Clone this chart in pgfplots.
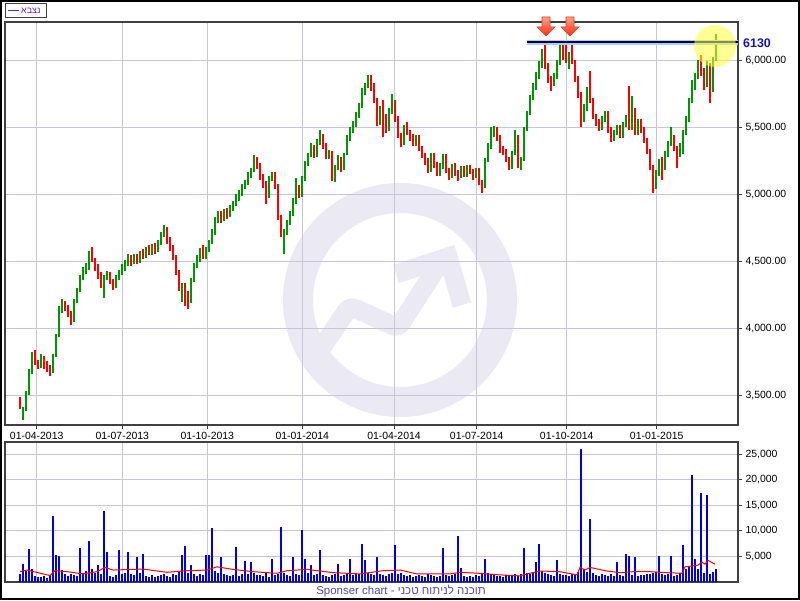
\documentclass[border=0pt]{standalone}
\usepackage{fontspec}
\setmainfont{Liberation Sans}
\TeXXeTstate=1
\usepackage{pgfplots}
\usepackage{pgfplotstable}
\pgfplotsset{compat=1.18}

\definecolor{upc}{RGB}{0,150,0}
\definecolor{downc}{RGB}{255,0,0}
\definecolor{volc}{RGB}{0,0,225}
\definecolor{gridc}{RGB}{200,197,216}
\definecolor{framec}{RGB}{64,64,64}
\definecolor{wmc}{RGB}{234,233,244}
\definecolor{legc}{RGB}{110,30,200}
\definecolor{labc}{RGB}{20,20,190}
\definecolor{footc}{RGB}{85,75,170}
\definecolor{glowc}{RGB}{175,205,240}
\definecolor{navyc}{RGB}{0,0,70}
\definecolor{hlc}{RGB}{255,255,60}

% one candle every 3 px: open close high low volume
\pgfplotstableread{
o c h l v
3460 3420 3490 3400 1500
3360 3400 3420 3320 3500
3400 3520 3540 3390 2200
3520 3680 3700 3510 6400
3680 3790 3830 3660 2500
3800 3750 3840 3730 1200
3750 3720 3770 3700 1000
3720 3790 3810 3710 900
3790 3720 3800 3700 1100
3720 3700 3760 3680 800
3700 3680 3730 3650 1300
3680 3800 3810 3670 13000
3800 3950 3960 3790 5200
3950 4150 4170 3940 5100
4150 4190 4220 4120 2400
4190 4160 4210 4130 1500
4160 4120 4180 4090 1200
4120 4060 4130 4030 1600
4060 4200 4220 4050 1300
4200 4280 4300 4190 1100
4280 4380 4400 4270 6600
4380 4430 4460 4360 1800
4430 4460 4490 4410 2200
4460 4570 4580 4440 8000
4590 4520 4610 4500 2600
4520 4460 4530 4430 1700
4460 4400 4480 4370 3300
4400 4330 4420 4300 1500
4250 4380 4400 4230 13900
4380 4400 4430 4360 5800
4400 4350 4420 4330 1200
4350 4320 4370 4290 1000
4320 4380 4400 4300 1400
4380 4420 4440 4360 6200
4420 4450 4480 4400 1600
4450 4490 4510 4430 1800
4490 4530 4560 4470 5800
4530 4490 4550 4470 1500
4490 4540 4560 4480 1300
4540 4500 4560 4480 4800
4500 4560 4580 4490 1700
4560 4540 4590 4520 5500
4540 4590 4610 4530 1200
4590 4560 4620 4550 1000
4560 4610 4630 4550 1300
4610 4580 4640 4560 900
4580 4640 4660 4570 1100
4640 4690 4720 4620 1400
4690 4740 4770 4680 1600
4750 4650 4760 4630 1200
4650 4600 4680 4580 1000
4600 4530 4620 4510 1500
4530 4420 4550 4400 1300
4420 4300 4440 4280 2000
4230 4320 4340 4200 5200
4320 4250 4340 4170 7000
4250 4200 4280 4150 1800
4200 4360 4380 4190 3400
4360 4470 4490 4350 1500
4470 4520 4550 4450 1200
4520 4570 4600 4500 1600
4600 4540 4620 4520 1400
4540 4590 4610 4520 5200
4590 4640 4660 4570 5200
4640 4720 4740 4630 10500
4720 4810 4830 4700 2200
4810 4850 4880 4790 1800
4860 4810 4880 4790 4800
4810 4870 4890 4800 1500
4870 4840 4900 4820 1300
4840 4900 4920 4830 1100
4900 4930 4950 4880 1400
4930 4970 5000 4910 6800
4970 5010 5030 4950 1200
5010 5060 5080 4990 1600
5060 5090 5110 5040 4100
5090 5140 5170 5070 1500
5140 5180 5200 5120 4000
5180 5260 5290 5170 1800
5260 5210 5280 5190 1300
5210 5130 5230 5110 1400
5130 5080 5150 5050 1200
5080 4980 5100 4930 1700
4980 5120 5140 4970 1000
5120 5150 5170 5100 4500
5150 5060 5170 5040 1300
5060 4830 5080 4810 1500
4830 4700 4850 4680 10700
4620 4720 4740 4560 1800
4720 4790 4810 4700 1400
4790 4860 4880 4770 1200
4860 4950 4970 4840 4800
4950 5040 5120 4930 1600
5050 4990 5070 4970 1400
4990 5120 5140 4980 10100
5120 5230 5250 5100 4500
5230 5290 5310 5210 1700
5300 5350 5380 5280 3300
5350 5290 5370 5270 1300
5290 5390 5410 5280 1500
5390 5430 5480 5370 6200
5430 5360 5450 5340 1400
5360 5280 5380 5260 1200
5280 5310 5330 5260 1000
5310 5130 5320 5100 1300
5100 5200 5220 5090 1500
5200 5260 5290 5180 3500
5270 5190 5280 5170 1100
5190 5300 5310 5180 1300
5300 5420 5440 5290 1600
5420 5480 5500 5400 4500
5480 5520 5550 5460 1400
5520 5590 5610 5500 1700
5590 5650 5680 5570 1500
5650 5760 5790 5640 7400
5760 5810 5830 5740 4300
5810 5860 5890 5790 1800
5870 5800 5890 5770 1500
5800 5700 5830 5680 1300
5700 5540 5720 5510 4800
5540 5640 5660 5520 1600
5640 5580 5700 5430 1400
5580 5480 5600 5460 1200
5480 5620 5640 5470 1500
5620 5660 5750 5600 1800
5680 5560 5700 5540 7200
5560 5440 5580 5420 1600
5440 5380 5460 5350 1800
5380 5500 5520 5370 1400
5510 5460 5540 5440 1200
5460 5430 5480 5400 1300
5430 5380 5450 5360 1000
5380 5420 5440 5360 1100
5420 5340 5440 5320 1400
5340 5290 5360 5270 1200
5290 5250 5310 5220 1000
5250 5180 5270 5160 1500
5180 5290 5310 5170 1300
5290 5220 5310 5200 1100
5220 5160 5240 5140 900
5160 5210 5230 5140 1200
5210 5280 5300 5190 6600
5280 5180 5300 5160 1400
5180 5140 5200 5110 1100
5140 5210 5230 5120 1300
5210 5160 5230 5140 1500
5160 5130 5180 5100 9000
5130 5190 5210 5120 2800
5190 5150 5210 5130 1200
5150 5200 5220 5130 1000
5200 5170 5220 5150 1100
5170 5140 5190 5110 900
5140 5180 5200 5120 1300
5180 5090 5200 5070 1200
5090 5060 5110 5010 1500
5060 5250 5270 5050 4500
5250 5360 5380 5240 1800
5360 5450 5500 5340 1600
5450 5480 5510 5430 1400
5490 5420 5500 5400 1200
5420 5330 5440 5310 1100
5330 5320 5360 5290 1000
5320 5260 5340 5240 1300
5260 5200 5280 5180 1200
5200 5300 5320 5190 1400
5300 5420 5480 5290 1500
5420 5220 5440 5200 1200
5220 5260 5280 5180 1600
5260 5480 5500 5250 6600
5480 5600 5620 5470 1800
5600 5720 5740 5590 1500
5720 5800 5830 5700 1700
5800 5880 5910 5780 3900
5880 5960 5990 5860 7400
5960 6050 6080 5940 2200
6050 5950 6140 5930 1800
5950 5850 5980 5830 1600
5850 5830 5880 5770 1300
5830 5880 5900 5810 1200
5880 5980 6000 5860 4300
5980 6060 6120 5960 1500
6060 6040 6130 6000 1400
6040 6000 6140 5980 1300
5950 6040 6060 5930 1100
6120 5990 6130 5970 1600
5990 5860 6000 5840 1400
5860 5740 5880 5720 2000
5740 5560 5760 5500 26000
5560 5640 5670 5540 2600
5640 5780 5800 5620 2000
5880 5700 5920 5680 12300
5700 5580 5720 5560 1800
5580 5540 5600 5510 1400
5540 5500 5560 5470 1200
5500 5560 5580 5480 1600
5560 5600 5620 5540 1300
5600 5480 5620 5460 1200
5480 5420 5500 5390 1500
5420 5460 5480 5400 1100
5460 5500 5520 5440 4000
5500 5440 5520 5420 1300
5440 5520 5540 5420 1200
5520 5560 5590 5500 5500
5800 5500 5810 5480 5100
5500 5620 5730 5480 1400
5620 5460 5640 5440 4800
5460 5540 5560 5440 1200
5540 5480 5560 5460 1400
5480 5400 5500 5380 1300
5400 5320 5420 5300 1600
5320 5200 5340 5180 1500
5200 5060 5220 5010 1800
5060 5160 5180 5040 2000
5160 5240 5260 5140 5100
5240 5200 5280 5110 1500
5200 5300 5320 5180 1300
5300 5380 5400 5280 1600
5380 5420 5500 5360 5000
5420 5340 5440 5320 1200
5340 5300 5360 5200 1400
5300 5360 5380 5280 1800
5360 5460 5480 5300 7200
5460 5560 5580 5440 2500
5560 5700 5720 5540 3000
5700 5800 5850 5680 20900
5800 5880 5900 5780 4500
5880 5960 6000 5860 2500
6020 5900 6040 5880 17400
5900 5820 5940 5780 1800
5820 5960 5990 5800 17000
5960 5780 5980 5680 1500
5780 6000 6020 5760 2000
6000 6160 6190 5990 2600
}\ohlc

% volume moving average
\pgfplotstableread{
x y
20 2020
27 2340
50 1260
55 2210
67 2020
83 1580
97 2020
105 2845
113 2340
143 2530
167 1895
187 2210
207 2340
217 2970
233 2465
253 2020
277 1705
287 2210
307 2465
333 1830
360 1580
383 2210
400 2340
417 1580
450 1580
460 1895
480 1700
500 1390
520 1200
527 1580
540 2150
560 2020
577 1390
580 2845
585 2340
590 2845
607 2150
620 1830
633 2020
650 2020
667 1830
682 1705
685 2970
698 3290
702 3920
705 3480
708 4240
715 3480
}\volma

\pgfplotsset{
  panel/.style={
    scale only axis, width=733bp, xmin=5, xmax=738,
    axis line style={draw=framec, line width=1.3bp},
    grid=major, grid style={draw=gridc, line width=1bp},
    xtick={36.7,122.3,207.3,302.3,394,476.7,566.7,656.7},
    xtick pos=bottom, ytick pos=right, yticklabel pos=right,
    tick align=outside, major tick length=4bp,
    tick style={draw=framec, line width=1bp},
    tick label style={font=\fontsize{10.5}{12}\selectfont, text=black},
    /pgf/number format/assume math mode=true,
    scaled y ticks=false,
  },
  wick/.style={draw=none, mark=none, forget plot,
    error bars/.cd, y dir=both, y explicit, error mark=none,
    error bar style={draw=#1, line width=1.1bp}},
  body/.style={draw=none, mark=none, forget plot,
    error bars/.cd, y dir=both, y explicit, error mark=none,
    error bar style={draw=#1, line width=2.8bp}},
}

\begin{document}
\begin{tikzpicture}
\fill[white] (0,0) rectangle (800bp,600bp);
\draw[black, line width=2bp] (1bp,1bp) rectangle (799bp,599bp);

% watermark logo
\begin{scope}[x=1bp, y=-1bp, shift={(0,600bp)}]
  \fill[wmc, even odd rule] (400,300) circle[radius=117] (400,300) circle[radius=87];
  \draw[wmc, line width=19bp, line join=round, rounded corners=6bp]
    (316,356) -- (350,306) -- (398,328) -- (443,258);
  \draw[wmc, line width=19bp, line join=miter] (396,274) -- (448,257) -- (462,305);
\end{scope}

% price panel
\begin{axis}[panel, at={(5bp,175bp)}, anchor=south west, height=403bp,
  ymin=3284, ymax=6283, ytick={3500,4000,4500,5000,5500,6000},
  xticklabels={01-04-2013,01-07-2013,01-10-2013,01-01-2014,01-04-2014,01-07-2014,01-10-2014,01-01-2015},
  yticklabel style={/pgf/number format/.cd, fixed, fixed zerofill, precision=2, 1000 sep={,}}]
\addplot[wick=downc] table[x expr=20+3*\coordindex, y expr=(\thisrow{h}+\thisrow{l})/2,
  y error expr=(\thisrow{c}<\thisrow{o})*(\thisrow{h}-\thisrow{l})/2] {\ohlc};
\addplot[body=downc] table[x expr=20+3*\coordindex, y expr=(\thisrow{o}+\thisrow{c})/2,
  y error expr=(\thisrow{c}<\thisrow{o})*(\thisrow{o}-\thisrow{c})/2] {\ohlc};
\addplot[wick=upc] table[x expr=20+3*\coordindex, y expr=(\thisrow{h}+\thisrow{l})/2,
  y error expr=(1-(\thisrow{c}<\thisrow{o}))*(\thisrow{h}-\thisrow{l})/2] {\ohlc};
\addplot[body=upc] table[x expr=20+3*\coordindex, y expr=(\thisrow{o}+\thisrow{c})/2,
  y error expr=(1-(\thisrow{c}<\thisrow{o}))*(\thisrow{c}-\thisrow{o})/2] {\ohlc};
\end{axis}

% volume panel
\begin{axis}[panel, at={(5bp,18bp)}, anchor=south west, height=140bp,
  ymin=0, ymax=27400, ytick={5000,10000,15000,20000,25000},
  xticklabels={}, xtick style={draw=none},
  yticklabel style={/pgf/number format/.cd, fixed, precision=0, 1000 sep={,}}]
\addplot[ycomb, draw=volc, line width=1.4bp, mark=none]
  table[x expr=20+3*\coordindex, y=v] {\ohlc};
\addplot[draw=red, line width=1bp, mark=none] table[x=x, y=y] {\volma};
\end{axis}

% annotations in pixel coordinates
\begin{scope}[x=1bp, y=-1bp, shift={(0,600bp)}]
  \draw[framec, line width=1bp, fill=white] (5,4) rectangle (46,18);
  \draw[legc, line width=1bp] (8,11) -- (19,11);
  \node[text=legc, font=\fontsize{9}{9}\selectfont, anchor=west, inner sep=0pt] at (21,11) {נצבא};

  \draw[glowc, line width=5bp] (527,43) -- (738,43);
  \draw[navyc, line width=1.3bp] (527,42) -- (738,42);
  \node[text=labc, font=\bfseries\fontsize{12.5}{13}\selectfont, anchor=west, inner sep=0pt] at (743,43) {6130};

  \foreach \ax in {546,570} {
    \shade[top color={rgb,255:red,255;green,160;blue,140}, bottom color={rgb,255:red,255;green,45;blue,15},
      draw={rgb,255:red,225;green,60;blue,30}, line width=0.6bp]
      (\ax-4,17) -- (\ax+4,17) -- (\ax+4,27) -- (\ax+9,27) -- (\ax,36) -- (\ax-9,27) -- (\ax-4,27) -- cycle;
  }

  \fill[hlc, opacity=0.55] (715,46) circle[radius=21];

  \node[text=footc, font=\fontsize{11.5}{12}\selectfont] at (401,591) {Sponser chart - \beginR תוכנה לניתוח טכני\endR};
\end{scope}
\end{tikzpicture}
\end{document}
